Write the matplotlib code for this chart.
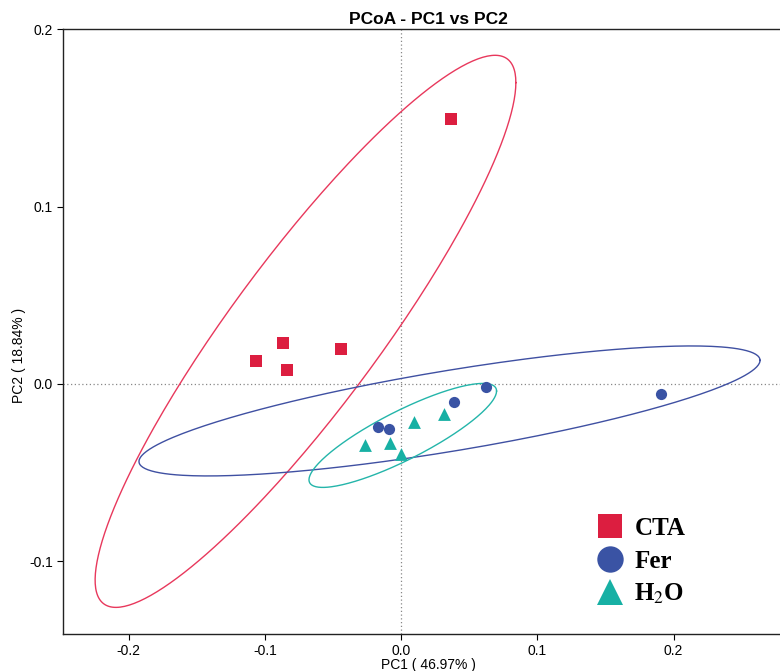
import numpy as np
import matplotlib
matplotlib.use("Agg")
import matplotlib.pyplot as plt
from matplotlib.lines import Line2D

plt.rcParams['font.family'] = ['Liberation Sans', 'DejaVu Sans']
plt.rcParams['axes.unicode_minus'] = False
plt.rcParams['mathtext.fontset'] = 'stix'

# ---- data ----
groups = ["CTA", "Fer", "H2O"]
legend_labels = ["CTA", "Fer", "H$_2$O"]
colors = ["#DC1E40", "#3A53A4", "#17B0A4"]
ellipse_colors = ["#E8385C", "#3F50A2", "#24B5AA"]
markers = ["s", "o", "^"]

cta_x = [0.0367, -0.0866, -0.0440, -0.1064, -0.0837]
cta_y = [0.1495, 0.0231, 0.0197, 0.0130, 0.0079]
fer_x = [0.0624, 0.0389, -0.0169, -0.0088, 0.1908]
fer_y = [-0.0017, -0.0102, -0.0243, -0.0254, -0.0056]
h2o_x = [-0.0264, -0.0081, 0.0095, 0.0318, 0.0000]
h2o_y = [-0.0344, -0.0331, -0.0213, -0.0171, -0.0395]

# ellipse parameters: center, covariance-like shape matrix
ell_center = [(-0.0701, 0.0297), (0.0356, -0.0152), (0.0013, -0.0290)]
ell_sxx = [0.02384, 0.05194, 0.004738]
ell_syy = [0.02424, 0.001344, 0.000860]
ell_sxy = [0.02166, 0.00650, 0.001722]

xticks = [-0.2, -0.1, 0.0, 0.1, 0.2]
yticks = [-0.1, 0.0, 0.1, 0.2]

# ---- figure ----
W, H = 780, 671
fig = plt.figure(figsize=(W/100, H/100), dpi=100)
left_px, right_px, top_px, bot_px = 62.5, 792, 29, 634
ax = fig.add_axes([left_px/W, 1-bot_px/H, (right_px-left_px)/W, (bot_px-top_px)/H])

# pixel scale: x 0 at 401, 0.1 = 136.25 px ; y 0 at 384, 0.1 = 177.3 px
ax.set_xlim((left_px-401)/1362.5, (right_px-401)/1362.5)
ax.set_ylim((384-bot_px)/1773, (384-top_px)/1773)

ax.axvline(0, color="#888888", lw=0.9, ls=(0, (1, 2)), zorder=1)
ax.axhline(0, color="#888888", lw=0.9, ls=(0, (1, 2)), zorder=1)

t = np.linspace(0, 2*np.pi, 300)
for c, sxx, syy, sxy, col in zip(ell_center, ell_sxx, ell_syy, ell_sxy, ellipse_colors):
    S = np.array([[sxx, sxy], [sxy, syy]])
    L = np.linalg.cholesky(S)
    pts = L @ np.vstack([np.cos(t), np.sin(t)])
    ax.plot(c[0] + pts[0], c[1] + pts[1], color=col, lw=1.0, zorder=2)

data = [(cta_x, cta_y), (fer_x, fer_y), (h2o_x, h2o_y)]
sizes = [70, 65, 85]
for (xs, ys), col, m, s in zip(data, colors, markers, sizes):
    ax.scatter(xs, ys, s=s, c=col, marker=m, linewidths=0, zorder=3)

ax.set_xticks(xticks)
ax.set_yticks(yticks)
ax.set_xticklabels([f"{v:.1f}" for v in xticks])
ax.set_yticklabels([f"{v:.1f}" for v in yticks])
ax.tick_params(direction='out', length=4, width=0.8, labelsize=10, pad=3, colors='black')
for sp in ["left", "bottom", "top"]:
    ax.spines[sp].set_linewidth(1.0)
    ax.spines[sp].set_color("#222222")
ax.spines["right"].set_visible(False)

fig.text(428/W, 1-19/H, "PCoA - PC1 vs PC2", ha='center', va='center', fontsize=12.5, fontweight='bold')
fig.text(428/W, 1-664.5/H, "PC1 ( 46.97% )", ha='center', va='center', fontsize=10)
fig.text(19/W, 1-355/H, "PC2 ( 18.84% )", ha='center', va='center', fontsize=10, rotation=90)

handles = [Line2D([], [], ls='none', marker=m, color=col, markersize=ms, markeredgewidth=0)
           for m, col, ms in zip(markers, colors, [17, 19, 19])]
leg = ax.legend(handles, legend_labels, loc='upper left',
                bbox_to_anchor=(597/W, 1-517/H), bbox_transform=fig.transFigure,
                frameon=False, handlelength=1.0, handletextpad=0.5, borderpad=0,
                borderaxespad=0, labelspacing=0.38,
                prop={'family': 'Liberation Serif', 'size': 18, 'weight': 'bold'})

fig.savefig("out.png", dpi=100)
